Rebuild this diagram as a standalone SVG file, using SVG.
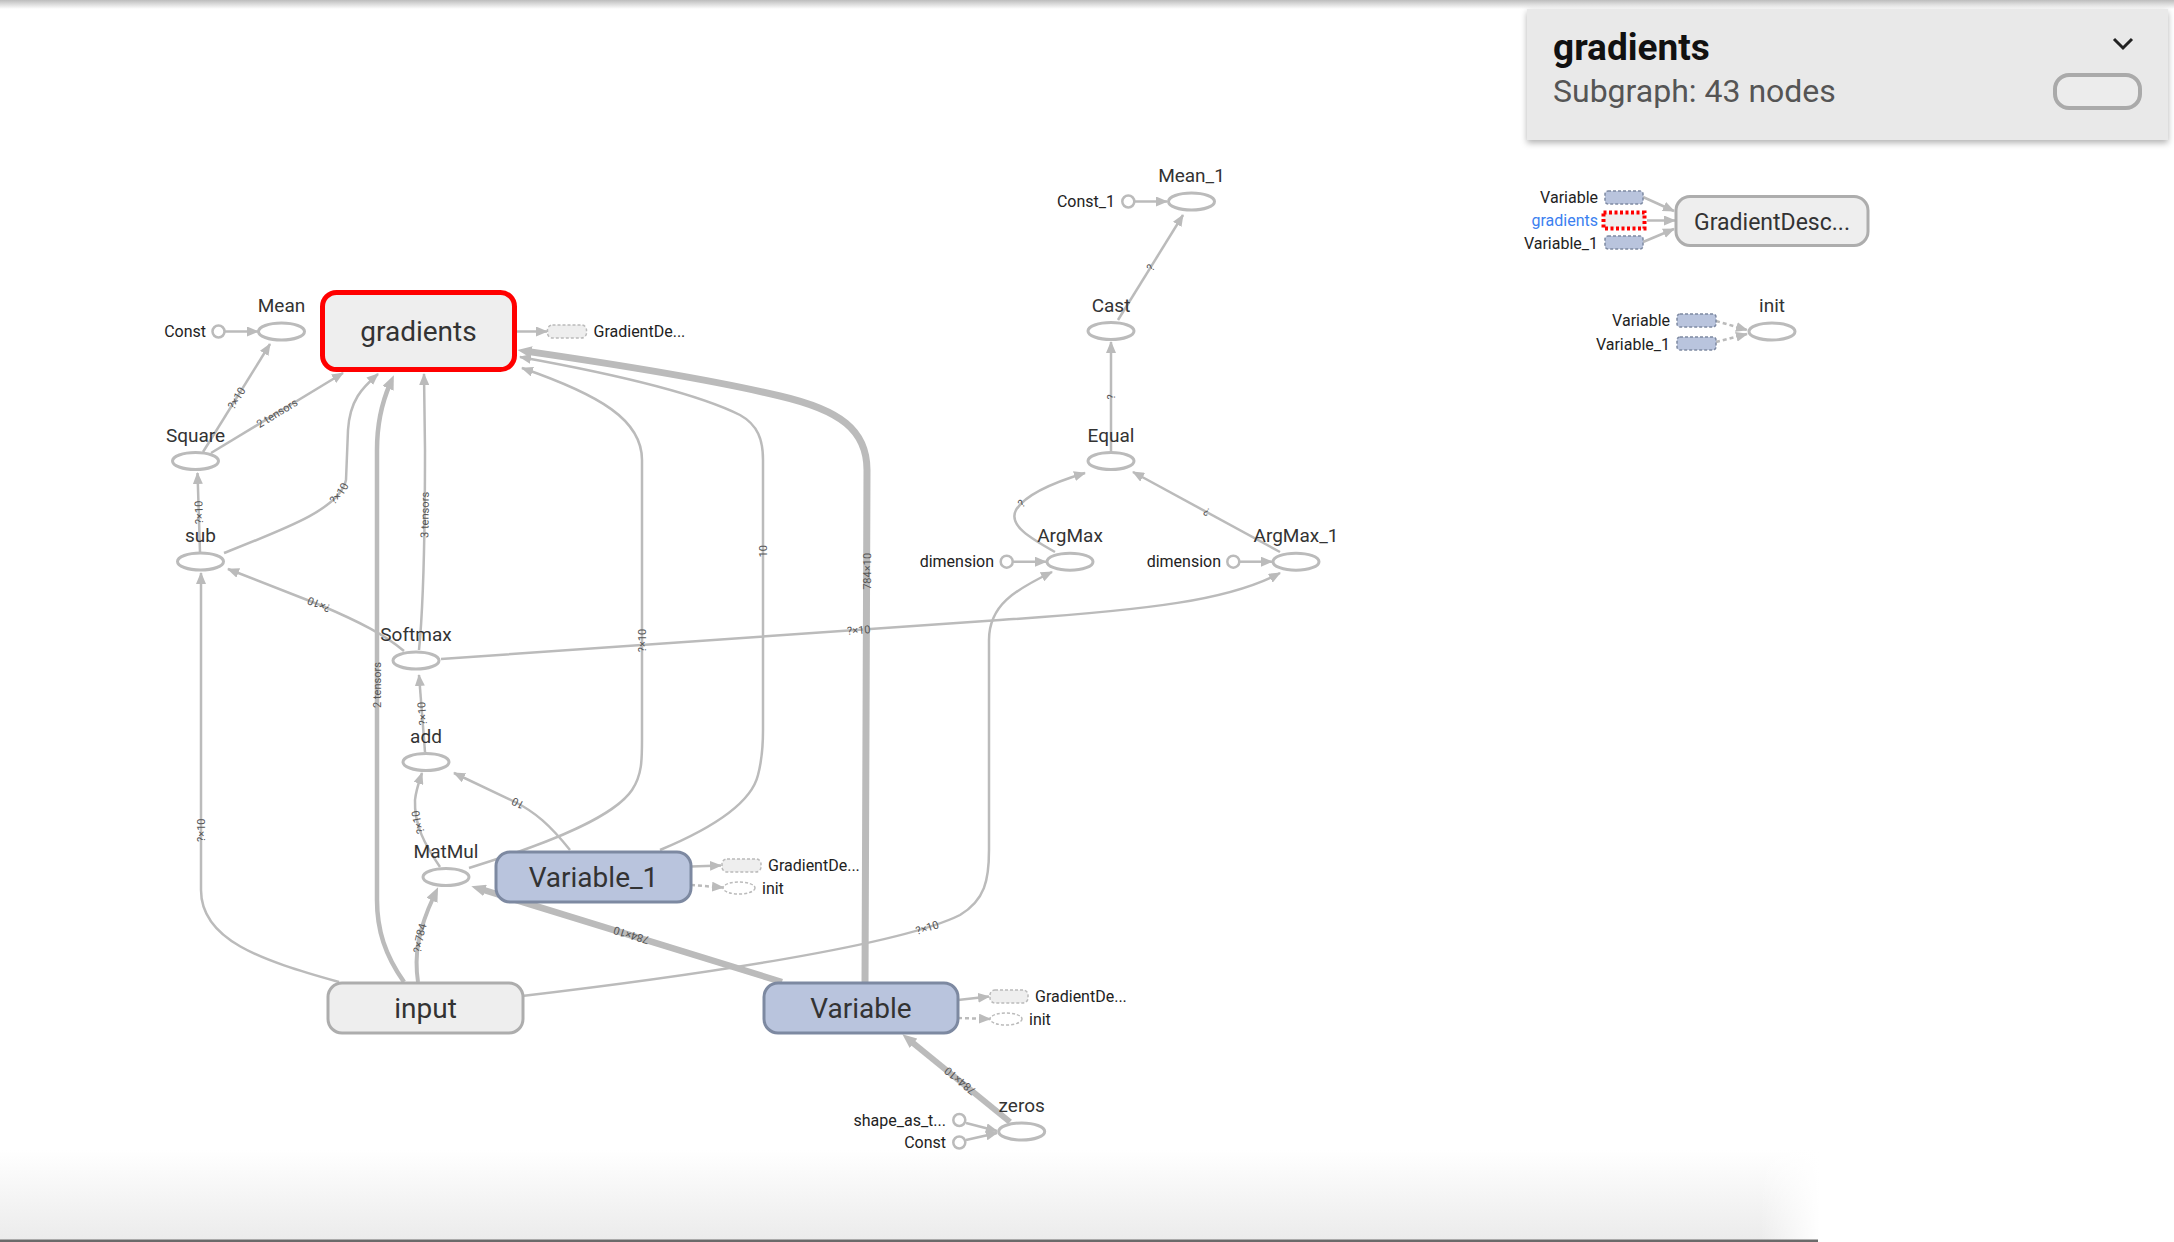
<svg xmlns="http://www.w3.org/2000/svg" width="2174" height="1242" viewBox="0 0 2174 1242">
<style>
.e{fill:none;stroke:#bbb;stroke-width:2.5}
.t{fill:none;stroke:#bbb}
.d{fill:none;stroke:#bbb;stroke-width:2.5;stroke-dasharray:4,3}
.ell{fill:#fff;stroke:#bbb;stroke-width:3}
.cir{fill:#fff;stroke:#bbb;stroke-width:2.5}
.lbl{font-family:Roboto,"Liberation Sans",sans-serif;font-size:19px;fill:#333;text-anchor:middle}
.sm{font-family:Roboto,"Liberation Sans",sans-serif;font-size:16px;fill:#222}
.big{font-family:Roboto,"Liberation Sans",sans-serif;font-size:28px;fill:#333;text-anchor:middle}
.el{font-family:Roboto,"Liberation Sans",sans-serif;font-size:11px;fill:#555;text-anchor:middle}
.box{fill:#eee;stroke:#adadad;stroke-width:3}
.var{fill:#b9c4dd;stroke:#7d89a1;stroke-width:3}
.sgd{fill:#eee;stroke:#bbb;stroke-width:1.5;stroke-dasharray:3,2}
.svar{fill:#b9c4dd;stroke:#7d89a1;stroke-width:1.5;stroke-dasharray:3,2}
.sinit{fill:#fff;stroke:#bbb;stroke-width:1.5;stroke-dasharray:3,2}
</style>
<defs>
<marker id="a" viewBox="0 0 12 10" refX="11" refY="5" markerWidth="12" markerHeight="10" markerUnits="userSpaceOnUse" orient="auto"><path d="M0,0 L12,5 L0,10 z" fill="#bbb"/></marker>
<marker id="at" viewBox="0 0 12 10" refX="4" refY="5" markerWidth="14.4" markerHeight="12" markerUnits="userSpaceOnUse" orient="auto"><path d="M0,0 L12,5 L0,10 z" fill="#bbb"/></marker>
<linearGradient id="topg" x1="0" y1="0" x2="0" y2="1"><stop offset="0" stop-color="#bdbdbd"/><stop offset="1" stop-color="#fff"/></linearGradient>
<linearGradient id="botg" x1="0" y1="0" x2="0" y2="1"><stop offset="0" stop-color="#fff"/><stop offset="1" stop-color="#ebebeb"/></linearGradient>
<linearGradient id="botr" x1="0" y1="0" x2="1" y2="0"><stop offset="0" stop-color="#fff" stop-opacity="0"/><stop offset="1" stop-color="#fff"/></linearGradient>
<filter id="sh" x="-5%" y="-10%" width="110%" height="130%"><feDropShadow dx="0" dy="3" stdDeviation="3" flood-color="#000" flood-opacity="0.3"/></filter>
</defs>
<rect width="2174" height="1242" fill="#fff"/>
<rect x="0" y="1150" width="1820" height="92" fill="url(#botg)"/>
<rect x="1760" y="1150" width="60" height="92" fill="url(#botr)"/>
<rect x="0" y="1239.5" width="1818" height="2.5" fill="#6a6a6a"/>
<rect x="0" y="0" width="2174" height="9" fill="url(#topg)"/>

<g id="connectors">
<path id="p1" class="e" d="M224,331.5 L258,331.5" marker-end="url(#a)"/>
<path id="p2" class="e" d="M203,452 L270,344" marker-end="url(#a)"/>
<path id="p3" class="e" d="M211,453 L343,373" marker-end="url(#a)"/>
<path id="p4" class="e" d="M200,552 L197.5,473" marker-end="url(#a)"/>
<path id="p5" class="e" d="M224,553 C290,527 340,508 346,480 L348,430 C350,400 362,388 378,374" marker-end="url(#a)"/>
<path id="p6" class="e" d="M404,651 C385,635 360,622 320,605 L228,569" marker-end="url(#a)"/>
<path id="p7" class="e" d="M419,650 C424,600 425,520 425,450 L424,374" marker-end="url(#a)"/>
<path id="p8" class="t" stroke-width="4.5" d="M404,982 C385,955 377,930 377,900 L377,450 C377,420 383,400 390,384" marker-end="url(#at)"/>
<path id="p9" class="e" d="M339,982 C260,960 201,940 201,890 L201,573" marker-end="url(#a)"/>
<path id="p10" class="t" stroke-width="4" d="M418,982 C414,955 418,930 434,896" marker-end="url(#at)"/>
<path id="p11" class="t" stroke-width="6.5" d="M782,982 L480.5,889" marker-end="url(#at)"/>
<path id="p12" class="e" d="M440,867 C425,845 414,825 415,800 C416,790 419,782 422,773" marker-end="url(#a)"/>
<path id="p13" class="e" d="M570,850 C550,825 535,812 515,802 L454,773" marker-end="url(#a)"/>
<path id="p14" class="e" d="M425,752 L419,675" marker-end="url(#a)"/>
<path id="p15" class="e" d="M469,868 C560,840 615,815 632,790 C642,775 642,760 642,740 L642,460 C642,420 600,395 522,368" marker-end="url(#a)"/>
<path id="p16" class="e" d="M660,850 C720,825 752,800 758,775 C762,760 763,745 763,730 L763,460 C763,440 758,425 740,415 C700,395 620,375 520,357" marker-end="url(#a)"/>
<path id="p17" class="t" stroke-width="7" d="M865,983 C866,900 867,700 867,470 C867,430 840,410 780,396 C700,377 600,362 527,351.4" marker-end="url(#at)"/>
<path id="p18" class="e" d="M441,659 L1000,620 C1150,610 1230,600 1280,573" marker-end="url(#a)"/>
<path id="p19" class="e" d="M522,996 C700,975 900,945 960,915 C985,900 989,880 989,850 L989,640 C989,605 1015,590 1052,572" marker-end="url(#a)"/>
<path id="p20" class="e" d="M517,331.5 L547,331.5" marker-end="url(#a)"/>
<path id="p21" class="e" d="M691,866.5 L721,865.5" marker-end="url(#a)"/>
<path id="p22" class="d" d="M691,885 L723,887.5" marker-end="url(#a)"/>
<path id="p23" class="e" d="M958,1000 L989,996.5" marker-end="url(#a)"/>
<path id="p24" class="d" d="M958,1018 L990,1019" marker-end="url(#a)"/>
<path id="p25" class="t" stroke-width="6" d="M1010,1122 L909.8,1040.3" marker-end="url(#at)"/>
<path id="p26" class="e" d="M966,1123 L997,1131" marker-end="url(#a)"/>
<path id="p27" class="e" d="M966,1140 L997,1133" marker-end="url(#a)"/>
<path id="p28" class="e" d="M1134.5,201.5 L1167,201.5" marker-end="url(#a)"/>
<path id="p29" class="e" d="M1118,320 L1183,215" marker-end="url(#a)"/>
<path id="p30" class="e" d="M1111,452 L1111,342" marker-end="url(#a)"/>
<path id="p31" class="e" d="M1055,552 C1030,538 1008,525 1016,510 C1025,495 1055,482 1085,473" marker-end="url(#a)"/>
<path id="p32" class="e" d="M1280,552 L1133,472" marker-end="url(#a)"/>
<path id="p33" class="e" d="M1013,561.7 L1046,561.7" marker-end="url(#a)"/>
<path id="p34" class="e" d="M1240,561.7 L1272,561.7" marker-end="url(#a)"/>
<path id="p35" class="e" d="M1643,197 L1674,211" marker-end="url(#a)"/>
<path id="p36" class="e" d="M1647,220.5 L1675,220.5" marker-end="url(#a)"/>
<path id="p37" class="e" d="M1643,242 L1674,229" marker-end="url(#a)"/>
<path id="p38" class="d" d="M1716,321 L1747,330" marker-end="url(#a)"/>
<path id="p39" class="d" d="M1716,342 L1747,334" marker-end="url(#a)"/>
<text class="el" dy="4"><textPath href="#p2" startOffset="50%">?×10</textPath></text>
<text class="el" dy="4"><textPath href="#p3" startOffset="50%">2 tensors</textPath></text>
<text class="el" dy="4"><textPath href="#p4" startOffset="50%">?×10</textPath></text>
<text class="el" dy="4"><textPath href="#p5" startOffset="50%">?×10</textPath></text>
<text class="el" dy="4"><textPath href="#p6" startOffset="50%">?×10</textPath></text>
<text class="el" dy="4"><textPath href="#p7" startOffset="49%">3 tensors</textPath></text>
<text class="el" dy="4"><textPath href="#p8" startOffset="50%">2 tensors</textPath></text>
<text class="el" dy="4"><textPath href="#p9" startOffset="48%">?×10</textPath></text>
<text class="el" dy="4"><textPath href="#p10" startOffset="50%">?×784</textPath></text>
<text class="el" dy="4"><textPath href="#p11" startOffset="50%">784×10</textPath></text>
<text class="el" dy="4"><textPath href="#p12" startOffset="50%">?×10</textPath></text>
<text class="el" dy="4"><textPath href="#p13" startOffset="50%">10</textPath></text>
<text class="el" dy="4"><textPath href="#p14" startOffset="50%">?×10</textPath></text>
<text class="el" dy="4"><textPath href="#p15" startOffset="49.5%">?×10</textPath></text>
<text class="el" dy="4"><textPath href="#p16" startOffset="48.5%">10</textPath></text>
<text class="el" dy="4"><textPath href="#p17" startOffset="46%">784×10</textPath></text>
<text class="el" dy="4"><textPath href="#p18" startOffset="49.5%">?×10</textPath></text>
<text class="el" dy="4"><textPath href="#p19" startOffset="49.5%">?×10</textPath></text>
<text class="el" dy="4"><textPath href="#p25" startOffset="50%">784×10</textPath></text>
<text class="el" dy="4"><textPath href="#p29" startOffset="50%">?</textPath></text>
<text class="el" dy="4"><textPath href="#p30" startOffset="50%">?</textPath></text>
<text class="el" dy="4"><textPath href="#p31" startOffset="50%">?</textPath></text>
<text class="el" dy="4"><textPath href="#p32" startOffset="50%">?</textPath></text>
</g>

<g id="n-const"><circle class="cir" cx="218.5" cy="331.5" r="6"/><text class="sm" x="206" y="337" text-anchor="end">Const</text></g>
<g id="n-mean"><ellipse class="ell" cx="281.5" cy="331.5" rx="23" ry="8.5"/><text class="lbl" x="281.5" y="312">Mean</text></g>
<g id="n-gradients"><rect x="322.5" y="292.5" width="192" height="77" rx="14" fill="#eee" stroke="#f00" stroke-width="5"/><text class="big" x="418.5" y="340.5">gradients</text></g>
<g id="n-gd0"><rect class="sgd" x="547.5" y="325" width="39" height="13" rx="5"/><text class="sm" x="593.5" y="337">GradientDe...</text></g>
<g id="n-square"><ellipse class="ell" cx="195.5" cy="461" rx="23" ry="8.5"/><text class="lbl" x="195.5" y="442">Square</text></g>
<g id="n-sub"><ellipse class="ell" cx="200.5" cy="561.5" rx="23" ry="8.5"/><text class="lbl" x="200.5" y="542">sub</text></g>
<g id="n-softmax"><ellipse class="ell" cx="416" cy="660.5" rx="23" ry="8.5"/><text class="lbl" x="416" y="641">Softmax</text></g>
<g id="n-add"><ellipse class="ell" cx="426" cy="762" rx="23" ry="8.5"/><text class="lbl" x="426" y="743">add</text></g>
<g id="n-matmul"><ellipse class="ell" cx="446" cy="877" rx="23" ry="8.5"/><text class="lbl" x="446" y="858">MatMul</text></g>
<g id="n-variable1"><rect class="var" x="496" y="852" width="195" height="50" rx="14"/><text class="big" x="593.5" y="887">Variable_1</text></g>
<g id="n-gd1"><rect class="sgd" x="722" y="859" width="39" height="13" rx="5"/><text class="sm" x="768" y="871">GradientDe...</text></g>
<g id="n-init1"><ellipse class="sinit" cx="739" cy="888" rx="16" ry="6"/><text class="sm" x="762" y="894">init</text></g>
<g id="n-input"><rect class="box" x="328" y="983" width="195" height="50" rx="14"/><text class="big" x="425.5" y="1018">input</text></g>
<g id="n-variable"><rect class="var" x="764" y="983" width="194" height="50" rx="14"/><text class="big" x="861" y="1018">Variable</text></g>
<g id="n-gd2"><rect class="sgd" x="990" y="990" width="38" height="13" rx="5"/><text class="sm" x="1035" y="1002">GradientDe...</text></g>
<g id="n-init2"><ellipse class="sinit" cx="1006" cy="1019" rx="16" ry="6"/><text class="sm" x="1029" y="1025">init</text></g>
<g id="n-zeros"><ellipse class="ell" cx="1021.7" cy="1131.5" rx="23" ry="8.5"/><text class="lbl" x="1021.7" y="1112">zeros</text></g>
<g id="n-shape"><circle class="cir" cx="959.3" cy="1120" r="6"/><text class="sm" x="946" y="1126" text-anchor="end">shape_as_t...</text></g>
<g id="n-const2"><circle class="cir" cx="959.3" cy="1142.5" r="6"/><text class="sm" x="946" y="1148" text-anchor="end">Const</text></g>

<g id="n-mean1"><ellipse class="ell" cx="1191.5" cy="201.5" rx="23" ry="8.5"/><text class="lbl" x="1191.5" y="182">Mean_1</text></g>
<g id="n-const1"><circle class="cir" cx="1128.3" cy="201.5" r="6"/><text class="sm" x="1115" y="207" text-anchor="end">Const_1</text></g>
<g id="n-cast"><ellipse class="ell" cx="1111" cy="331" rx="23" ry="8.5"/><text class="lbl" x="1111" y="312">Cast</text></g>
<g id="n-equal"><ellipse class="ell" cx="1111" cy="461" rx="23" ry="8.5"/><text class="lbl" x="1111" y="442">Equal</text></g>
<g id="n-argmax"><ellipse class="ell" cx="1070" cy="561.7" rx="23" ry="8.5"/><text class="lbl" x="1070" y="542">ArgMax</text></g>
<g id="n-dim0"><circle class="cir" cx="1006.7" cy="561.7" r="6"/><text class="sm" x="994" y="567" text-anchor="end">dimension</text></g>
<g id="n-argmax1"><ellipse class="ell" cx="1296" cy="561.7" rx="23" ry="8.5"/><text class="lbl" x="1296" y="542">ArgMax_1</text></g>
<g id="n-dim1"><circle class="cir" cx="1233.3" cy="561.7" r="6"/><text class="sm" x="1221" y="567" text-anchor="end">dimension</text></g>

<g id="n-gdesc"><rect class="box" x="1676" y="196.5" width="192" height="49" rx="14" stroke="#bbb"/><text class="lbl" x="1772" y="229.5" style="font-size:23px">GradientDesc...</text></g>
<g id="n-gd-var"><rect class="svar" x="1605" y="191" width="38" height="13" rx="3"/><text class="sm" x="1598" y="203" text-anchor="end">Variable</text></g>
<g id="n-gd-grad"><rect x="1603.5" y="212.5" width="41" height="16" fill="#eee" stroke="#f00" stroke-width="4" stroke-dasharray="3,2.5"/><text class="sm" x="1598" y="226" text-anchor="end" style="fill:#3b7ff0">gradients</text></g>
<g id="n-gd-var1"><rect class="svar" x="1605" y="236" width="38" height="13" rx="3"/><text class="sm" x="1598" y="248.5" text-anchor="end">Variable_1</text></g>
<g id="n-init"><ellipse class="ell" cx="1772" cy="331.5" rx="23" ry="8.5"/><text class="lbl" x="1772" y="312">init</text></g>
<g id="n-init-var"><rect class="svar" x="1677" y="314" width="39" height="13" rx="3"/><text class="sm" x="1670" y="326" text-anchor="end">Variable</text></g>
<g id="n-init-var1"><rect class="svar" x="1677" y="337" width="39" height="13" rx="3"/><text class="sm" x="1670" y="349.5" text-anchor="end">Variable_1</text></g>

<g id="info-panel">
<rect x="1527" y="9" width="641" height="131" fill="#e9e9e9" filter="url(#sh)"/>
<text x="1553" y="60" font-family="Roboto,'Liberation Sans',sans-serif" font-size="37" font-weight="bold" fill="#111">gradients</text>
<text x="1553" y="101.5" font-family="Roboto,'Liberation Sans',sans-serif" font-size="32" fill="#555">Subgraph: 43 nodes</text>
<polyline points="2114,39 2123,48 2132,39" fill="none" stroke="#222" stroke-width="3"/>
<rect x="2055" y="75" width="85" height="33" rx="14" fill="#ececec" stroke="#aaa" stroke-width="4"/>
</g>
</svg>
